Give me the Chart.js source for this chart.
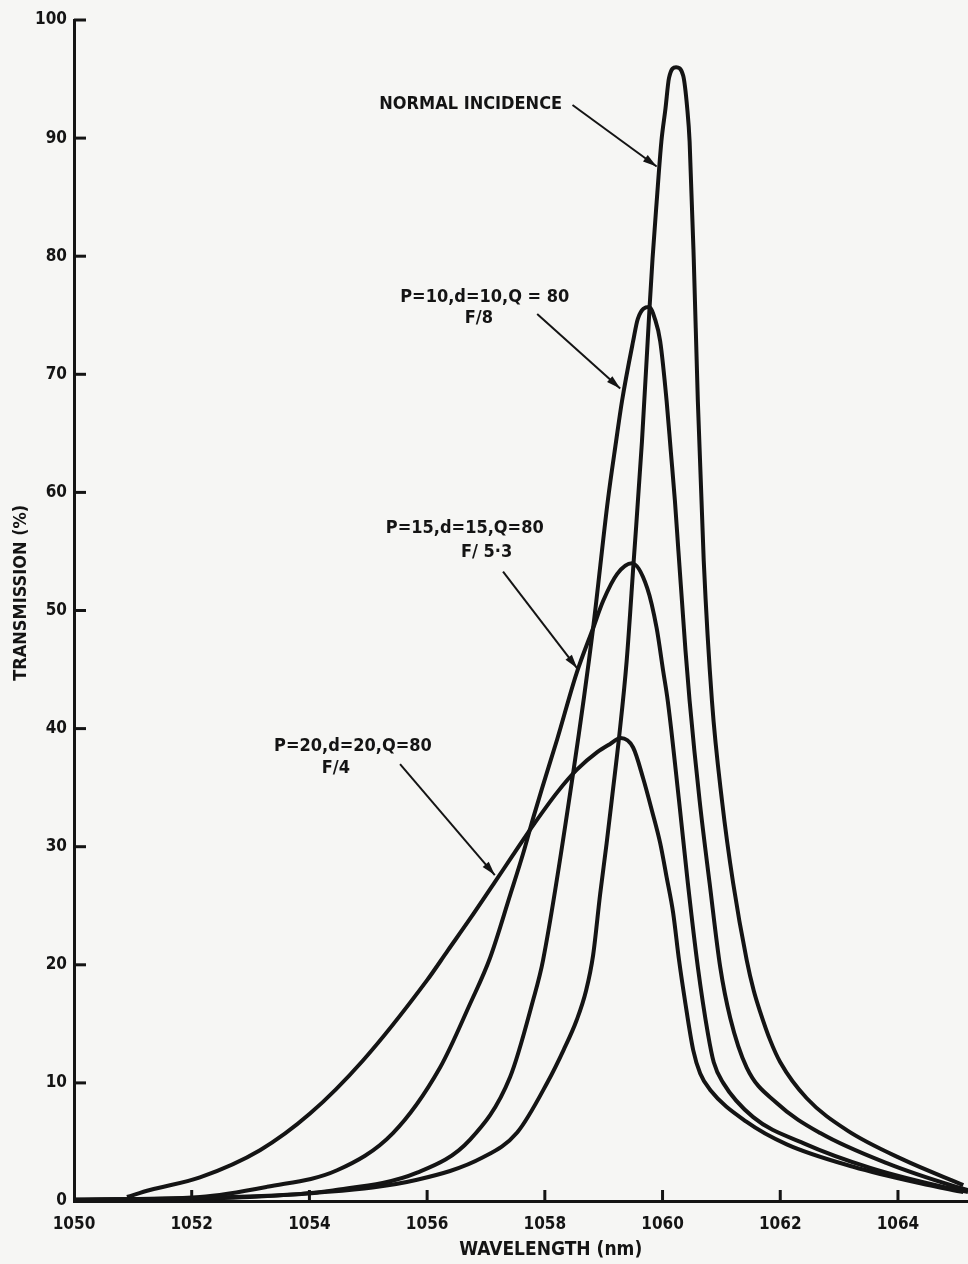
<!DOCTYPE html>
<html>
<head>
<meta charset="utf-8">
<script src="https://cdn.jsdelivr.net/npm/chart.js@4.4.1/dist/chart.umd.min.js"></script>
<style>
  html, body { margin: 0; padding: 0; background: #f6f6f4; }
  #wrap { width: 968px; height: 1264px; }
</style>
</head>
<body>
<div id="wrap"><canvas id="chart" width="968" height="1264"></canvas></div>
<script>
// wavelength (nm) and transmission (%)
const normalX = [1050.00, 1052.14, 1054.13, 1055.83, 1056.95, 1057.53, 1058.05, 1058.32, 1058.54, 1058.70,
                 1058.82, 1058.94, 1059.05, 1059.15, 1059.26, 1059.39, 1059.51, 1059.65, 1059.78, 1059.83,
                 1059.90, 1059.98, 1060.05, 1060.11, 1060.23, 1060.35, 1060.42, 1060.46, 1060.53, 1060.60,
                 1060.70, 1060.84, 1061.01, 1061.20, 1061.43, 1061.55, 1061.66, 1061.83, 1062.00, 1062.45,
                 1063.13, 1064.09, 1065.11];
const normalY = [0.1, 0.25, 0.7, 1.8, 3.7, 5.8, 10.1, 12.8, 15.3, 17.8,
                 20.8, 26.0, 30.3, 34.5, 39.2, 45.7, 54.2, 64.3, 75.7, 79.8,
                 84.6, 89.7, 92.5, 95.1, 96.0, 95.3, 92.5, 89.7, 79.8, 67.7,
                 54.2, 42.3, 33.9, 26.9, 20.4, 17.8, 16.0, 13.6, 11.75, 8.7,
                 6.0, 3.5, 1.35];

const p10X = [1050.00, 1052.99, 1054.40, 1055.83, 1056.73, 1057.41, 1057.80, 1057.97, 1058.48, 1058.82,
              1059.07, 1059.21, 1059.31, 1059.50, 1059.58, 1059.77, 1059.87, 1059.96, 1060.07, 1060.14,
              1060.21, 1060.27, 1060.33, 1060.39, 1060.46, 1060.63, 1060.80, 1060.98, 1061.15, 1061.43,
              1061.94, 1062.68, 1063.81, 1064.94, 1065.19];
const p10Y = [0.1, 0.34, 0.9, 2.4, 5.2, 10.5, 17.0, 20.4, 36.2, 48.5,
              59.3, 64.3, 67.7, 72.8, 74.7, 75.7, 74.7, 72.8, 67.7, 63.5,
              59.3, 55.0, 50.8, 46.6, 42.35, 33.9, 26.9, 19.8, 15.5, 11.3,
              8.3, 5.75, 3.2, 1.27, 0.93];

const p15X = [1050.00, 1052.14, 1053.28, 1054.47, 1055.42, 1056.22, 1056.73, 1057.07, 1057.41, 1057.63,
              1057.80, 1057.95, 1058.21, 1058.54, 1058.82, 1058.99, 1059.23, 1059.48, 1059.74, 1059.90,
              1060.01, 1060.09, 1060.28, 1060.43, 1060.60, 1060.77, 1060.87, 1061.03, 1061.54, 1062.39,
              1063.53, 1064.94, 1065.19];
const p15Y = [0.1, 0.34, 1.2, 2.6, 5.75, 11.3, 16.7, 20.6, 25.9, 29.4,
              32.4, 34.9, 39.1, 44.7, 48.5, 50.8, 53.1, 54.0, 51.9, 48.5,
              44.9, 42.3, 33.9, 26.9, 19.8, 14.2, 11.75, 10.0, 7.1, 4.9,
              2.8, 1.0, 0.76];

const p20X = [1050.90, 1051.29, 1052.14, 1053.16, 1054.01, 1054.91, 1056.00, 1056.35, 1056.73, 1057.15,
              1057.46, 1057.80, 1058.21, 1058.54, 1058.89, 1059.11, 1059.29, 1059.50, 1059.67, 1059.82,
              1059.96, 1060.07, 1060.18, 1060.28, 1060.38, 1060.52, 1060.64, 1060.81, 1061.43, 1062.11,
              1063.24, 1064.38, 1065.11];
const p20Y = [0.34, 0.93, 2.0, 4.3, 7.4, 11.9, 18.7, 21.2, 23.9, 27.0,
              29.3, 31.8, 34.6, 36.5, 38.0, 38.7, 39.2, 38.4, 35.8, 33.05,
              30.3, 27.4, 24.4, 20.4, 17.0, 12.8, 10.8, 9.4, 6.7, 4.8,
              2.9, 1.5, 0.76];

const xTicks = [1050, 1052, 1054, 1056, 1058, 1060, 1062, 1064];
const yTicks = [0, 10, 20, 30, 40, 50, 60, 70, 80, 90, 100];

const FONT = "'DejaVu Sans Condensed', 'DejaVu Sans', sans-serif";
const INK = '#141414';

// labels and arrows, placed in data units
const notes = [
  { text: 'NORMAL INCIDENCE', x: 1056.74, y: 92.9 },
  { text: 'P=10,d=10,Q = 80', x: 1056.98, y: 76.5 },
  { text: 'F/8', x: 1056.88, y: 74.7 },
  { text: 'P=15,d=15,Q=80', x: 1056.64, y: 57.0 },
  { text: 'F/ 5·3', x: 1057.01, y: 54.9 },
  { text: 'P=20,d=20,Q=80', x: 1054.74, y: 38.5 },
  { text: 'F/4', x: 1054.45, y: 36.6 }
];
const arrows = [
  { x0: 1058.47, y0: 92.8, x1: 1059.90, y1: 87.6 },
  { x0: 1057.87, y0: 75.1, x1: 1059.28, y1: 68.8 },
  { x0: 1057.29, y0: 53.3, x1: 1058.55, y1: 45.1 },
  { x0: 1055.54, y0: 37.0, x1: 1057.15, y1: 27.6 }
];

function pts(xs, ys) {
  return xs.map((x, i) => ({ x: x, y: ys[i] }));
}

function curve(label, xs, ys) {
  return {
    label: label,
    data: pts(xs, ys),
    showLine: true,
    borderColor: INK,
    borderWidth: 4,
    pointRadius: 0,
    cubicInterpolationMode: 'monotone',
    fill: false
  };
}

const paper = {
  id: 'paper',
  beforeDraw(chart) {
    const ctx = chart.ctx;
    ctx.save();
    ctx.fillStyle = '#f6f6f4';
    ctx.fillRect(0, 0, chart.width, chart.height);
    ctx.restore();
  },
  afterDraw(chart) {
    const { ctx, scales: { x, y } } = chart;
    ctx.save();

    // tick marks point into the plot
    ctx.strokeStyle = INK;
    ctx.lineWidth = 3;
    yTicks.forEach(v => {
      if (v === 0) return;
      const py = y.getPixelForValue(v);
      ctx.beginPath();
      ctx.moveTo(x.left, py);
      ctx.lineTo(x.left + 12, py);
      ctx.stroke();
    });
    xTicks.forEach(v => {
      if (v === xTicks[0]) return;
      const px = x.getPixelForValue(v);
      ctx.beginPath();
      ctx.moveTo(px, y.bottom);
      ctx.lineTo(px, y.bottom - 11);
      ctx.stroke();
    });

    ctx.fillStyle = INK;
    ctx.textAlign = 'center';
    ctx.textBaseline = 'middle';

    // axis titles sit off-centre in the original
    ctx.font = 'bold 19px ' + FONT;
    ctx.fillText('WAVELENGTH (nm)', x.getPixelForValue(1058.1), 1250);
    ctx.save();
    ctx.translate(21, y.getPixelForValue(51.5));
    ctx.rotate(-Math.PI / 2);
    ctx.font = 'bold 18px ' + FONT;
    ctx.fillText('TRANSMISSION (%)', 0, 0);
    ctx.restore();

    // curve labels
    ctx.font = 'bold 18px ' + FONT;
    notes.forEach(n => {
      ctx.fillText(n.text, x.getPixelForValue(n.x), y.getPixelForValue(n.y));
    });

    // arrows
    ctx.lineWidth = 2;
    arrows.forEach(a => {
      const x0 = x.getPixelForValue(a.x0), y0 = y.getPixelForValue(a.y0);
      const x1 = x.getPixelForValue(a.x1), y1 = y.getPixelForValue(a.y1);
      const ang = Math.atan2(y1 - y0, x1 - x0);
      ctx.beginPath();
      ctx.moveTo(x0, y0);
      ctx.lineTo(x1, y1);
      ctx.stroke();
      ctx.beginPath();
      ctx.moveTo(x1, y1);
      ctx.lineTo(x1 - 14 * Math.cos(ang) + 4 * Math.sin(ang), y1 - 14 * Math.sin(ang) - 4 * Math.cos(ang));
      ctx.lineTo(x1 - 14 * Math.cos(ang) - 4 * Math.sin(ang), y1 - 14 * Math.sin(ang) + 4 * Math.cos(ang));
      ctx.closePath();
      ctx.fill();
    });
    ctx.restore();
  }
};

const ctx = document.getElementById('chart').getContext('2d');

const chart = new Chart(ctx, {
  type: 'scatter',
  data: {
    datasets: [
      curve('Normal incidence', normalX, normalY),
      curve('P=10, d=10, Q=80, F/8', p10X, p10Y),
      curve('P=15, d=15, Q=80, F/5.3', p15X, p15Y),
      curve('P=20, d=20, Q=80, F/4', p20X, p20Y)
    ]
  },
  options: {
    responsive: false,
    animation: false,
    layout: {
      padding: { top: 20, right: 0, bottom: 0, left: 0 }
    },
    plugins: {
      legend: { display: false },
      tooltip: { enabled: false }
    },
    scales: {
      x: {
        type: 'linear',
        min: 1050,
        max: 1065.19,
        afterBuildTicks: scale => { scale.ticks = xTicks.map(v => ({ value: v })); },
        afterFit: scale => { scale.height = 63; },
        grid: { display: false, drawTicks: false },
        border: { display: true, color: INK, width: 3 },
        ticks: {
          color: INK,
          padding: 13,
          maxRotation: 0,
          autoSkip: false,
          font: { family: FONT, size: 17, weight: 'bold' },
          callback: v => String(v)
        }
      },
      y: {
        min: 0,
        max: 100,
        afterBuildTicks: scale => { scale.ticks = yTicks.map(v => ({ value: v })); },
        afterFit: scale => { scale.width = 74; },
        grid: { display: false, drawTicks: false },
        border: { display: true, color: INK, width: 3 },
        ticks: {
          color: INK,
          padding: 7,
          autoSkip: false,
          font: { family: FONT, size: 17, weight: 'bold' },
          callback: v => String(v)
        }
      }
    }
  },
  plugins: [paper]
});
</script>
</body>
</html>
